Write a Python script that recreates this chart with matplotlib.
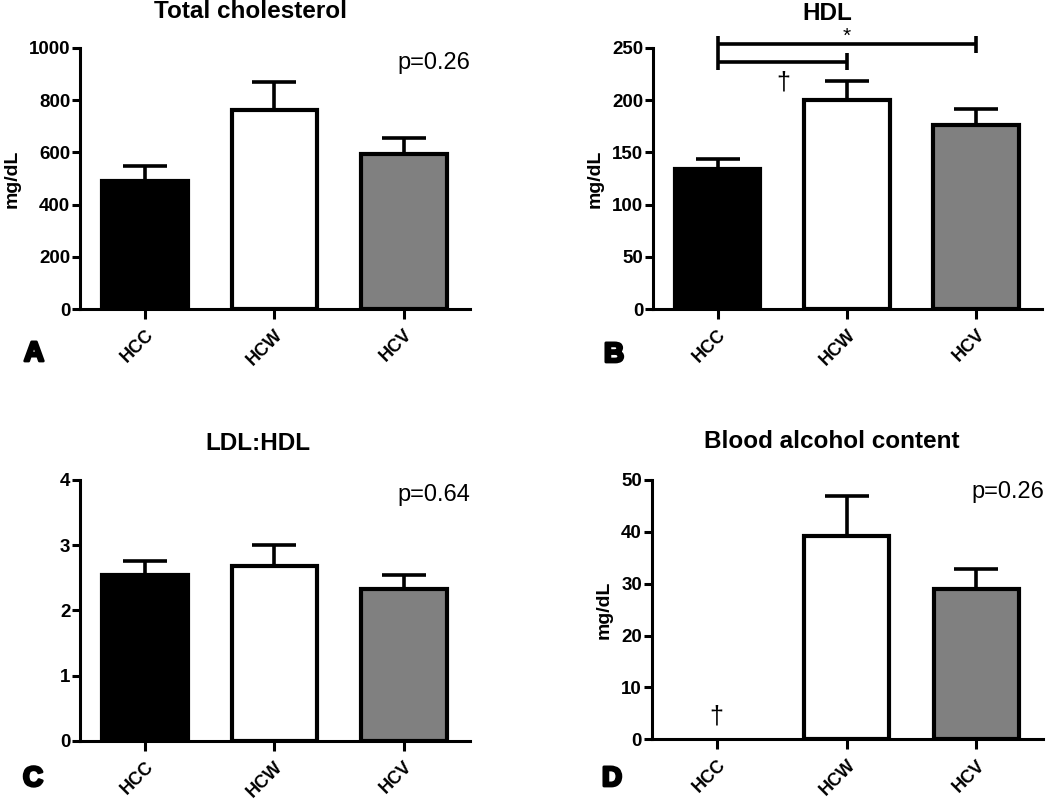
import matplotlib
matplotlib.use('Agg')
import matplotlib.pyplot as plt
import matplotlib.patheffects as path_effects
import numpy as np

plt.rcParams['font.family'] = ['Liberation Sans', 'DejaVu Sans']

# Data
groups = ['HCC', 'HCW', 'HCV']
bar_colors = ['black', 'white', '#808080']

chol_mean = [490, 763, 593]
chol_err = [58, 105, 61]

hdl_mean = [134, 200, 176]
hdl_err = [10, 18, 16]

ratio_mean = [2.55, 2.68, 2.33]
ratio_err = [0.21, 0.33, 0.22]

bac_mean = [0, 39.2, 28.9]
bac_err = [0, 7.7, 3.9]

# HDL significance brackets: (from group, to group, height, label)
hdl_brackets = [(0, 2, 253.5, '*'), (0, 1, 237, '\u2020')]


def panel(rect, means, errs, ymax, ystep, title, title_xy, letter, letter_xy, ylabel=None):
    ax = fig.add_axes(rect)
    x = np.arange(len(groups))
    lws = [0 if m == 0 else 3.0 for m in means]
    ax.bar(x, means, width=0.66, color=bar_colors, edgecolor='black', linewidth=lws, zorder=3)
    keep = [i for i, m in enumerate(means) if m > 0]
    ax.errorbar(x[keep], np.array(means)[keep],
                yerr=[np.zeros(len(keep)), np.array(errs)[keep]],
                fmt='none', ecolor='black', elinewidth=2.6, capsize=16, capthick=2.6, zorder=2)
    ax.set_xlim(-0.5, 2.51)
    ax.set_ylim(0, ymax)
    ax.set_yticks(np.arange(0, ymax + ystep / 2, ystep))
    ax.set_xticks(x)
    ax.set_xticklabels(groups, rotation=45, ha='right', rotation_mode='anchor',
                       fontweight='bold', fontsize=13)
    for lab in ax.get_yticklabels():
        lab.set_fontweight('bold')
        lab.set_fontsize(13.5)
    for s in ['top', 'right']:
        ax.spines[s].set_visible(False)
    for s in ['left', 'bottom']:
        ax.spines[s].set_linewidth(2.2)
    ax.tick_params(axis='y', direction='out', length=6, width=2.2, pad=1)
    ax.tick_params(axis='x', direction='out', length=7.5, width=2.2, pad=5)
    if ylabel:
        ax.set_ylabel(ylabel, fontweight='bold', fontsize=14, labelpad=6)
    fig.text(title_xy[0] / 1050, 1 - title_xy[1] / 800, title, ha='center', va='center',
             fontsize=17.5, fontweight='bold')
    t = fig.text(letter_xy[0] / 1050, 1 - letter_xy[1] / 800, letter, ha='center', va='center',
                 fontsize=20, fontweight='bold')
    t.set_path_effects([path_effects.withStroke(linewidth=2, foreground='black')])
    return ax


fig = plt.figure(figsize=(10.5, 8), dpi=100)

axA = panel([80 / 1050, 1 - 309 / 800, 390 / 1050, 261 / 800], chol_mean, chol_err, 1000, 200,
            'Total cholesterol', (250, 12), 'A', (34, 354), 'mg/dL')
axA.text(434 / 1050, 1 - 63 / 800, 'p=0.26', transform=fig.transFigure, ha='center', va='center', fontsize=17)

axB = panel([653 / 1050, 1 - 309 / 800, 389 / 1050, 261 / 800], hdl_mean, hdl_err, 250, 50,
            'HDL', (827, 13), 'B', (614, 355), 'mg/dL')
cap = 8
for i, j, h, lab in hdl_brackets:
    axB.plot([i, j], [h, h], color='black', lw=2.6, clip_on=False, solid_capstyle='butt')
    for xx in (i, j):
        axB.plot([xx, xx], [h - cap, h + cap], color='black', lw=2.6, clip_on=False, solid_capstyle='butt')
    if lab == '*':
        axB.text((i + j) / 2, h + 2, lab, ha='center', va='baseline', fontsize=15)
    else:
        axB.text(0.51, 217, lab, ha='center', va='center', fontsize=18)

axC = panel([80 / 1050, 1 - 740.7 / 800, 390 / 1050, 260.7 / 800], ratio_mean, ratio_err, 4, 1,
            'LDL:HDL', (258, 443), 'C', (33, 779))
axC.text(434 / 1050, 1 - 495 / 800, 'p=0.64', transform=fig.transFigure, ha='center', va='center', fontsize=17)

axD = panel([651.7 / 1050, 1 - 739.3 / 800, 391 / 1050, 259.3 / 800], bac_mean, bac_err, 50, 10,
            'Blood alcohol content', (832, 442), 'D', (612, 779), 'mg/dL')
axD.text(1008 / 1050, 1 - 492 / 800, 'p=0.26', transform=fig.transFigure, ha='center', va='center', fontsize=17)
axD.text(0, 4.4, '\u2020', ha='center', va='center', fontsize=18)

fig.savefig('out.png', dpi=100)
